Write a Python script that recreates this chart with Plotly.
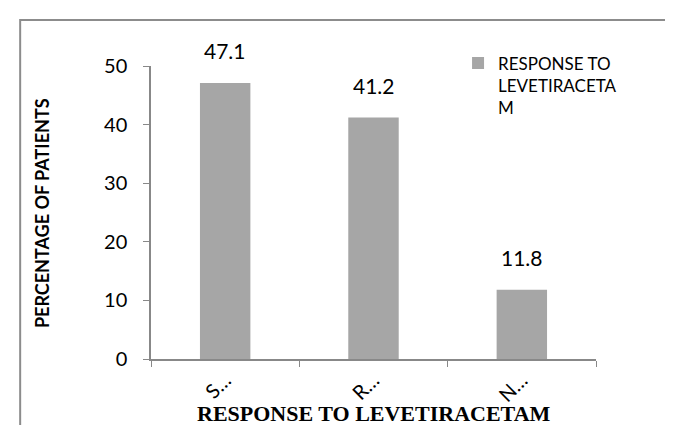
import plotly.graph_objects as go

categories = ["S…", "R…", "N…"]
values = [47.1, 41.2, 11.8]
labels = ["47.1", "41.2", "11.8"]
series_name = "RESPONSE TO<br>LEVETIRACETA<br>M"
y_ticks = [0, 10, 20, 30, 40, 50]

fig = go.Figure()
fig.add_trace(go.Bar(
    x=categories, y=values, name=series_name,
    marker=dict(color="#A6A6A6", line=dict(width=0)),
    showlegend=True,
))

label_annotations = [
    dict(x=c, y=v, xref="x", yref="y", text=t, showarrow=False,
         yanchor="bottom", yshift=18,
         font=dict(family="Lato", size=21, color="#000000"))
    for c, v, t in zip(categories, values, labels)
]

fig.update_layout(
    width=673, height=425,
    margin=dict(l=143, r=85, t=58, b=74, autoexpand=False),
    plot_bgcolor="white", paper_bgcolor="white",
    bargap=0.66,
    showlegend=True,
    legend=dict(x=0.69, y=1.07, xanchor="left", yanchor="top",
                font=dict(family="Lato", size=17, color="#000000"),
                valign="top", itemwidth=30, bgcolor="rgba(0,0,0,0)"),
    xaxis=dict(
        type="category", showline=True, linecolor="#888888", linewidth=1.5,
        ticks="outside", tickson="boundaries", ticklen=6, tickcolor="#888888",
        tickangle=-45, tickfont=dict(family="Lato", size=20, color="#000000"),
        showgrid=False, zeroline=False,
    ),
    yaxis=dict(
        range=[0, 50], tickvals=y_ticks, showline=True, linecolor="#888888", linewidth=1.5,
        ticks="outside", ticklen=6, tickcolor="#888888", ticklabelstandoff=12,
        tickfont=dict(family="Lato", size=20, color="#000000"),
        showgrid=False, zeroline=False,
    ),
    annotations=label_annotations + [
        dict(text="<b>PERCENTAGE OF PATIENTS</b>", xref="paper", yref="paper",
             x=-0.245, y=0.498, xanchor="center", yanchor="middle", textangle=-90,
             showarrow=False, font=dict(family="Lato", size=18, color="#000000")),
        dict(text="<b>RESPONSE TO LEVETIRACETAM</b>", xref="paper", yref="paper",
             x=0.5, y=-0.186, xanchor="center", yanchor="middle",
             showarrow=False, font=dict(family="Liberation Serif", size=22, color="#000000")),
    ],
    shapes=[
        dict(type="rect", xref="paper", yref="paper",
             x0=-0.294, x1=1.182, y0=-0.3, y1=1.157,
             line=dict(color="#8C8C8C", width=2), fillcolor="rgba(0,0,0,0)", layer="below"),
    ],
)

fig.write_html("out.html")
